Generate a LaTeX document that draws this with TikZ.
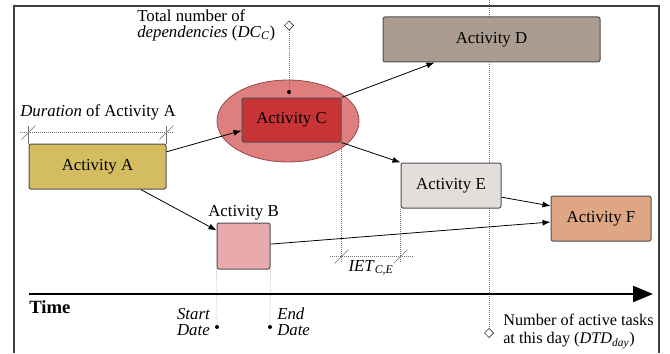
\documentclass[tikz,border=0pt]{standalone}
\usepackage{fontspec}
\setmainfont{Liberation Serif}
\usetikzlibrary{shapes,arrows.meta,calc,backgrounds}

\definecolor{actA}{RGB}{212,188,96}
\definecolor{actB}{RGB}{232,170,170}
\definecolor{actC}{RGB}{200,52,54}
\definecolor{ellC}{RGB}{222,126,126}
\definecolor{ellCline}{RGB}{150,72,72}
\definecolor{actD}{RGB}{170,156,144}
\definecolor{actE}{RGB}{227,222,219}
\definecolor{actF}{RGB}{222,166,130}
\definecolor{boxline}{RGB}{80,80,80}

\begin{document}
\begin{tikzpicture}[x=0.75pt,y=-0.75pt, font=\rmfamily]
  \tikzstyle{act}=[rectangle, draw=boxline, line width=0.75pt, rounded corners=1.5pt, minimum width=75pt, minimum height=33.75pt, font=\rmfamily\fontsize{12.6}{12.5}\selectfont]
  \tikzstyle{dep}=[-{Latex[length=6pt,width=4.5pt]}, line width=0.6pt]
  \tikzstyle{dim}=[densely dotted, black!55, line width=0.5pt]
  \tikzstyle{tickmark}=[black!55, line width=0.4pt]
  \tikzstyle{lbl}=[inner sep=0pt, font=\rmfamily\fontsize{12.6}{12}\selectfont]
  \tikzstyle{dotmark}=[circle, fill=black, inner sep=0pt, minimum size=3pt]
  \tikzstyle{diamark}=[diamond, draw=black!80, fill=white, line width=0.5pt, inner sep=0pt, minimum size=7pt]

  \useasboundingbox (0,0) rectangle (670,353);
  \draw[black!75, line width=0.8pt] (14,353) -- (14,6) -- (659,6) -- (659,353);

  \node[act, fill=actA, minimum width=102.75pt] (a) at (97.5,166.5) {Activity A};
  \node[ellipse, draw=ellCline, fill=ellC, line width=0.6pt, minimum width=106.5pt, minimum height=61.5pt] (cell) at (288,121) {};
  \node[act, fill=actC, minimum width=74.25pt, minimum height=33pt] (c) at (291.5,120) {Activity C};
  \node[act, fill=actD, minimum width=162.75pt] (d) at (491.5,39.5) {Activity D};
  \node[act, fill=actE] (e) at (451,185.5) {Activity E};
  \node[act, fill=actF] (f) at (601,218.5) {Activity F};
  \node[act, fill=actB, minimum width=39.75pt, minimum height=34.5pt] (b) at (243.5,246) {};
  \node[lbl] (blbl) at (243.5,213) {Activity B};

  \node[dotmark] (cdot) at (289,92) {};
  \node[diamark] (dcd) at (289,25.5) {};
  \node[lbl, anchor=west, align=left] (dclbl) at (137,25) {Total number of\\\textit{dependencies} (\textit{DC}\textsubscript{\textit{C}})};
  \draw[dim] (dcd) -- (cdot);

  \node[diamark] (dtd) at (489,333) {};
  \coordinate (dtdtop) at (489,0);
  \node[lbl, anchor=north west, align=left, font=\rmfamily\fontsize{12.2}{13.5}\selectfont] (dtdlbl) at (503,314) {Number of active tasks\\at this day (\textit{DTD}\textsubscript{\textit{day}})};
  \begin{scope}[on background layer]
    \draw[dim] (dtdtop) -- (dtd);
  \end{scope}

  \node[lbl] (durlbl) at (98,112) {\textit{Duration} of Activity A};
  \draw[dim] ($(a.north west)+(-9,-11)$) -- ++(154,0);
  \draw[tickmark] (a.north west) -- ++(0,-18);
  \draw[tickmark] ($(a.north west)+(-7,-4)$) -- ++(14,-14);
  \draw[tickmark] (a.north east) -- ++(0,-18);
  \draw[tickmark] ($(a.north east)+(-7,-4)$) -- ++(14,-14);

  \draw[dim] (c.south east) -- ++(0,120);
  \draw[dim] (e.south west) -- ++(0,54);
  \draw[dim] ($(c.south east)+(-12,114)$) -- ++(84,0);
  \draw[tickmark] ($(c.south east)+(-7,121)$) -- ++(14,-14);
  \draw[tickmark] ($(e.south west)+(-7,55)$) -- ++(14,-14);
  \node[lbl] (ietlbl) at (371,268) {\textit{IET}\textsubscript{\textit{C,E}}};

  \node[dotmark] (sdot) at (217,327) {};
  \node[dotmark] (edot) at (270,327) {};
  \draw[dim] (b.south west) -- (sdot);
  \draw[dim] (b.south east) -- (edot);
  \node[lbl, anchor=north east, align=right, font=\rmfamily\itshape\fontsize{12.6}{12}\selectfont] (slbl) at (210,308) {Start\\Date};
  \node[lbl, anchor=north west, align=left, font=\rmfamily\itshape\fontsize{12.6}{12}\selectfont] (elbl) at (277,308) {End\\Date};

  \coordinate (t0) at (29,294);
  \coordinate (t1) at (653,294);
  \draw[line width=1.6pt, -{Triangle[length=15pt,width=12pt]}] (t0) -- (t1);
  \node[lbl, anchor=base west, font=\rmfamily\bfseries\fontsize{14}{16}\selectfont] (time) at (29,313) {Time};

  \draw[dep] (a.12) -- (c.192);
  \draw[dep] (a.-28) -- (b.150);
  \draw[dep] (c.north east) -- (d.202);
  \draw[dep] (c.south east) -- (e.north west);
  \draw[dep] (e.-13) -- (f.166);
  \draw[dep] (b.4) -- (f.184);
\end{tikzpicture}
\end{document}
